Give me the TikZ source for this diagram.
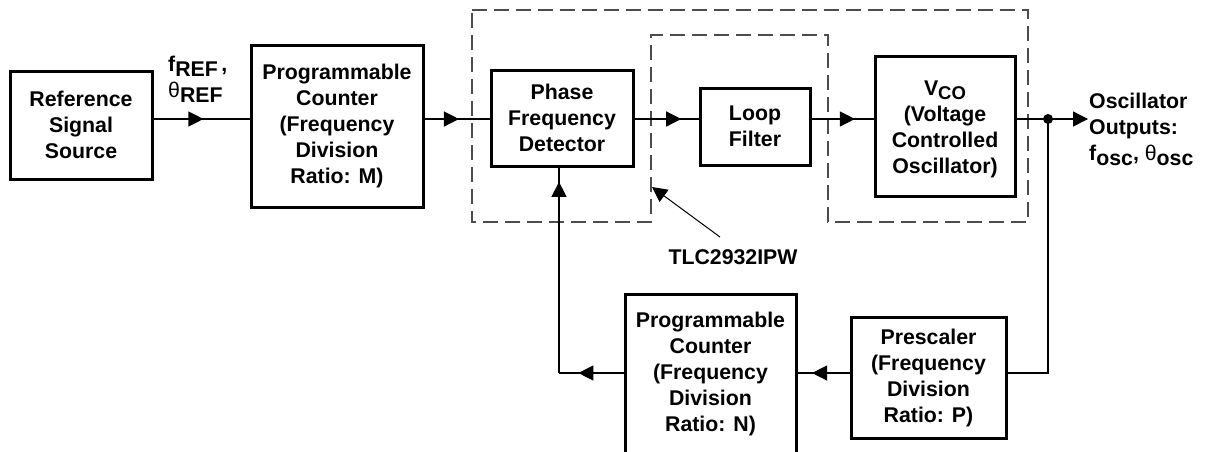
\documentclass[tikz,border=0pt]{standalone}
\usepackage{fontspec}
\setmainfont{Liberation Sans}
\usetikzlibrary{arrows.meta,decorations.markings}
\begin{document}
\begin{tikzpicture}[x=1pt,y=-1pt,
  txt/.style={font=\fontsize{21.3}{26}\selectfont\bfseries,inner sep=0pt},
  box/.style={txt,draw,line width=3pt,align=center},
  conn/.style={line width=1.3pt},
  tri/.tip={Triangle[length=15pt,width=15pt]},
  midarr/.style={postaction={decorate,decoration={markings,mark=at position #1 with {\arrow{tri}}}}},
  tlcbox/.style={draw=black!70,line width=1.2pt,dash pattern=on 15pt off 7pt}]
\useasboundingbox (0,0) rectangle (1206,451);
% blocks
\node[box,minimum width=142pt,minimum height=108pt] (ref) at (81,125) {Reference\\Signal\\Source};
\node[box,minimum width=172pt,minimum height=162pt] (cm) at (337,126) {Programmable\\Counter\\(Frequency\\Division\\Ratio: M)};
\node[box,minimum width=142pt,minimum height=96pt] (pfd) at (562,118) {Phase\\Frequency\\Detector};
\node[box,minimum width=110pt,minimum height=77pt] (loop) at (755,126.5) {Loop\\Filter};
\node[box,minimum width=140pt,minimum height=140pt] (vco) at (945,126) {};
\node[txt,align=center] (vcot) at (vco.center) [yshift=-3pt] {V\raisebox{-4pt}{\fontsize{18.5}{20}\selectfont CO}\\(Voltage\\Controlled\\Oscillator)};
\node[box,minimum width=155pt,minimum height=121pt] (pre) at (928.5,377.5) {Prescaler\\(Frequency\\Division\\Ratio: P)};
\node[box,minimum width=171pt,minimum height=159pt] (cn) at (710.5,373.5) {Programmable\\Counter\\(Frequency\\Division\\Ratio: N)};
% labels
\node[txt,align=left,anchor=west] (fref) at (168,79) {f\raisebox{-5pt}{REF}\,,\\{\mdseries θ}\raisebox{-5pt}{REF}};
\node[txt,align=left,anchor=west] (outl) at (1089,129) {Oscillator\\Outputs:\\f\raisebox{-5pt}{osc}, {\mdseries θ}\raisebox{-5pt}{osc}};
\node[txt] (tlc) at (733,257) {TLC2932IPW};
% dashed device outline
\draw[tlcbox] (472,10) -- (1028,10) -- (1028,222) -- (828,222) -- (828,35) -- (651,35) -- (651,222) -- (472,222) -- cycle;
% coordinates
\coordinate (y0) at (0,119);
\coordinate (dot) at (1048,119);
\coordinate (out) at (1088,119);
\coordinate (fbr) at (1048,373);
\coordinate (fbl) at (559,373);
\coordinate (tlcp) at (652,187);
\coordinate (tlcs) at (720,237);
% connectors
\draw[conn,midarr=0.52] (ref.east |- y0) -- (cm.west |- y0);
\draw[conn,midarr=0.53] (cm.east |- y0) -- (pfd.west |- y0);
\draw[conn,midarr=0.73] (pfd.east |- y0) -- (loop.west |- y0);
\draw[conn,midarr=0.70] (loop.east |- y0) -- (vco.west |- y0);
\draw[conn,-{tri}] (vco.east |- y0) -- (out);
\fill (dot) circle (5pt);
\draw[conn] (dot) -- (fbr) -- (pre.east |- fbr);
\draw[conn,midarr=0.72] (pre.west |- fbr) -- (cn.east |- fbr);
\draw[conn,midarr=0.70] (cn.west |- fbr) -- (fbl);
\draw[conn,midarr=0.93] (fbl) -- (fbl |- pfd.south);
\draw[line width=1pt,-{tri}] (tlcs) -- (tlcp);
\end{tikzpicture}
\end{document}
